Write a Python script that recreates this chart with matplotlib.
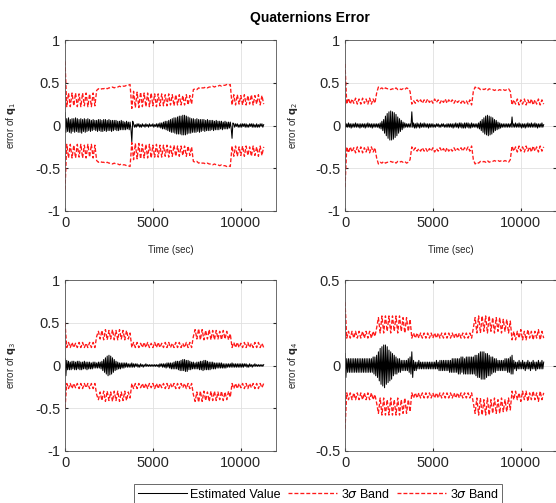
import numpy as np
import matplotlib
matplotlib.use('Agg')
import matplotlib.pyplot as plt

plt.rcParams['font.family'] = ['Liberation Sans', 'DejaVu Sans']

# time grids (sec)
t_band = np.arange(0, 11400, 100)
t_est = np.arange(0, 11350, 50)

# 3-sigma band (upper), sampled every 100 s; lower band is the negative
band_q1 = [0.75,
    0.22, 0.38, 0.22, 0.38, 0.23, 0.38, 0.22, 0.37, 0.22, 0.38, 0.23, 0.38, 0.22, 0.37, 0.22, 0.38, 0.23,
    0.41, 0.43, 0.42, 0.43, 0.43, 0.44, 0.43, 0.44, 0.44, 0.45, 0.44, 0.45, 0.45, 0.46, 0.45, 0.46, 0.46, 0.47, 0.47, 0.48,
    0.20, 0.40, 0.21, 0.39, 0.21, 0.39, 0.22, 0.38, 0.22, 0.38, 0.22, 0.38, 0.23, 0.37, 0.22, 0.37, 0.23, 0.37,
    0.23, 0.36, 0.23, 0.37, 0.24, 0.36, 0.23, 0.36, 0.24, 0.36, 0.24, 0.35, 0.24, 0.36, 0.24, 0.35, 0.25,
    0.42, 0.43, 0.42, 0.44, 0.43, 0.44, 0.44, 0.45, 0.44, 0.45, 0.45, 0.46, 0.45, 0.46, 0.46, 0.47, 0.46, 0.47,
    0.47, 0.48, 0.47, 0.48,
    0.24, 0.36, 0.24, 0.36, 0.25, 0.35, 0.24, 0.36, 0.24, 0.35, 0.25, 0.36, 0.24, 0.35, 0.25, 0.36, 0.24, 0.35, 0.25]
band_q2 = [0.72,
    0.25, 0.32, 0.25, 0.31, 0.26, 0.32, 0.25, 0.31, 0.25, 0.32, 0.26, 0.31, 0.25, 0.32, 0.25, 0.31, 0.26,
    0.38, 0.45, 0.43, 0.44, 0.42, 0.44, 0.43, 0.43, 0.42, 0.43, 0.42, 0.44, 0.42, 0.43, 0.42, 0.43, 0.42, 0.44, 0.43, 0.40,
    0.25, 0.29, 0.26, 0.30, 0.27, 0.30, 0.26, 0.30, 0.27, 0.31, 0.27, 0.30, 0.26, 0.31, 0.27, 0.30, 0.26, 0.30,
    0.27, 0.31, 0.26, 0.30, 0.27, 0.30, 0.26, 0.30, 0.27, 0.29, 0.26, 0.30, 0.26, 0.29, 0.25, 0.30, 0.24,
    0.40, 0.45, 0.43, 0.44, 0.42, 0.43, 0.42, 0.43, 0.41, 0.43, 0.42, 0.42, 0.41, 0.42, 0.41, 0.42, 0.41, 0.42,
    0.41, 0.42, 0.43, 0.40,
    0.24, 0.30, 0.25, 0.31, 0.24, 0.30, 0.25, 0.31, 0.24, 0.30, 0.25, 0.31, 0.24, 0.30, 0.25, 0.31, 0.24, 0.30, 0.25]
band_q3 = [0.50,
    0.21, 0.27, 0.21, 0.27, 0.21, 0.26, 0.21, 0.27, 0.21, 0.27, 0.21, 0.26, 0.21, 0.27, 0.21, 0.27, 0.21,
    0.34, 0.40, 0.31, 0.41, 0.30, 0.42, 0.30, 0.41, 0.31, 0.42, 0.30, 0.41, 0.30, 0.42, 0.31, 0.41, 0.30, 0.41, 0.31, 0.38,
    0.21, 0.27, 0.21, 0.27, 0.21, 0.26, 0.21, 0.27, 0.21, 0.27, 0.21, 0.26, 0.21, 0.27, 0.21, 0.27, 0.21, 0.26,
    0.21, 0.27, 0.21, 0.27, 0.21, 0.26, 0.21, 0.27, 0.21, 0.27, 0.21, 0.26, 0.21, 0.27, 0.21, 0.27, 0.21,
    0.34, 0.42, 0.31, 0.43, 0.30, 0.42, 0.30, 0.41, 0.31, 0.42, 0.30, 0.41, 0.30, 0.41, 0.31, 0.40, 0.30, 0.41,
    0.31, 0.40, 0.30, 0.37,
    0.21, 0.27, 0.21, 0.27, 0.21, 0.26, 0.21, 0.27, 0.21, 0.27, 0.21, 0.26, 0.21, 0.27, 0.21, 0.27, 0.21, 0.26, 0.21]
band_q4 = [0.37,
    0.16, 0.20, 0.16, 0.20, 0.16, 0.20, 0.16, 0.20, 0.16, 0.20, 0.16, 0.20, 0.16, 0.20, 0.16, 0.20, 0.17,
    0.22, 0.28, 0.19, 0.29, 0.19, 0.29, 0.20, 0.29, 0.19, 0.29, 0.20, 0.29, 0.19, 0.29, 0.20, 0.28, 0.19, 0.28, 0.20, 0.27,
    0.16, 0.19, 0.16, 0.19, 0.16, 0.19, 0.16, 0.19, 0.16, 0.19, 0.16, 0.19, 0.16, 0.19, 0.16, 0.19, 0.16, 0.19,
    0.16, 0.19, 0.16, 0.19, 0.16, 0.19, 0.16, 0.19, 0.16, 0.19, 0.16, 0.19, 0.16, 0.19, 0.16, 0.19, 0.16,
    0.22, 0.28, 0.19, 0.29, 0.19, 0.29, 0.20, 0.29, 0.19, 0.29, 0.20, 0.28, 0.19, 0.28, 0.20, 0.28, 0.19, 0.27,
    0.20, 0.27, 0.19, 0.26,
    0.15, 0.20, 0.15, 0.20, 0.16, 0.21, 0.15, 0.20, 0.15, 0.21, 0.16, 0.20, 0.15, 0.20, 0.16, 0.21, 0.15, 0.20, 0.16]

# estimated error, sampled every 50 s
est_q1 = [0.15,
    -0.08, 0.08, -0.07, 0.09, -0.08, 0.07, -0.09, 0.08, -0.07, 0.08, -0.08, 0.09, -0.07, 0.08, -0.08, 0.07, -0.08, 0.08,
    -0.09, 0.07, -0.07, 0.08, -0.08, 0.07, -0.07, 0.08, -0.06, 0.07, -0.07, 0.06, -0.06, 0.07, -0.05, 0.06, -0.06,
    0.06, -0.07, 0.07, -0.06, 0.07, -0.07, 0.06, -0.07, 0.07, -0.06, 0.07, -0.07, 0.06, -0.06, 0.07, -0.06, 0.06, -0.07,
    0.06, -0.06, 0.06, -0.05, 0.06, -0.06, 0.05, -0.06, 0.05, -0.05, 0.06, -0.05, 0.05, -0.05, 0.04, -0.05, 0.05, -0.04,
    0.04, -0.05, 0.04, -0.04,
    -0.19, 0.05,
    0.02, -0.02, 0.01, -0.02, 0.02, -0.01, 0.02, -0.02, 0.01, -0.02, 0.02, -0.01, 0.01, -0.02, 0.02, -0.01, 0.01, -0.02,
    0.02, -0.01, 0.01, -0.01, 0.02, -0.02, 0.01, -0.01, 0.02, -0.02, 0.02, -0.02, 0.03, -0.03, 0.03, -0.04, 0.04, -0.04,
    0.05, -0.05,
    0.05, -0.06, 0.06, -0.07, 0.07, -0.08, 0.08, -0.08, 0.09, -0.09, 0.09, -0.10, 0.10, -0.10, 0.11, -0.10, 0.11, -0.11,
    0.12, -0.11, 0.12, -0.11, 0.11, -0.10, 0.10, -0.09, 0.09, -0.09, 0.08, -0.08,
    0.08, -0.08, 0.07, -0.08, 0.08, -0.07, 0.07, -0.08, 0.07, -0.07, 0.07, -0.06, 0.07, -0.07, 0.06, -0.06, 0.07, -0.06,
    0.06, -0.06, 0.06, -0.05, 0.06, -0.06, 0.05, -0.05, 0.06, -0.05, 0.05, -0.05, 0.05, -0.04, 0.05, -0.05, 0.04, -0.04,
    0.05, -0.04, 0.04, -0.04, 0.04, -0.03, 0.04, -0.03,
    -0.15, 0.03,
    0.02, -0.02, 0.02, -0.01, 0.02, -0.02, 0.01, -0.02, 0.02, -0.02, 0.02, -0.01, 0.02, -0.02, 0.02, -0.02, 0.01, -0.02,
    0.02, -0.01, 0.02, -0.02, 0.02, -0.02, 0.01, -0.02, 0.02, -0.02, 0.01, -0.02, 0.02, -0.01, 0.02, -0.02, 0.01]
est_q2 = [0.03,
    -0.02, 0.02, -0.02, 0.03, -0.02, 0.02, -0.03, 0.02, -0.02, 0.02, -0.02, 0.03, -0.02, 0.02, -0.02, 0.02, -0.03, 0.02,
    -0.02, 0.02, -0.02, 0.02, -0.03, 0.02, -0.02, 0.03, -0.02, 0.02, -0.02, 0.02, -0.03, 0.02, -0.02, 0.02, -0.02,
    0.02, -0.02, 0.02, -0.03, 0.03, -0.04, 0.05, -0.06,
    0.07, -0.09, 0.11, -0.12, 0.14, -0.15, 0.16, -0.17, 0.17, -0.17, 0.16, -0.16, 0.15, -0.14, 0.13, -0.12, 0.10, -0.09,
    0.08, -0.07, 0.06, -0.05, 0.04,
    -0.03, 0.03, -0.02, 0.02, -0.02, 0.02, -0.02, 0.02, -0.02,
    0.16, -0.02,
    0.03, -0.03, 0.02, -0.03, 0.03, -0.02, 0.02, -0.03, 0.03, -0.02, 0.02, -0.02, 0.03, -0.02, 0.02, -0.02, 0.02, -0.03,
    0.02, -0.02, 0.02, -0.02, 0.02, -0.02, 0.01, -0.02, 0.02, -0.01, 0.02, -0.02, 0.01, -0.02, 0.02, -0.01, 0.02, -0.02,
    0.01, -0.02, 0.02, -0.02, 0.02, -0.02, 0.02, -0.02, 0.02, -0.03, 0.02, -0.02, 0.03, -0.02, 0.02, -0.03, 0.03, -0.02,
    0.03, -0.03, 0.02, -0.03, 0.03, -0.03, 0.03, -0.02, 0.03, -0.03, 0.02, -0.03, 0.03, -0.02,
    0.02, -0.02, 0.02, -0.02, 0.02, -0.03, 0.03, -0.04, 0.05, -0.06,
    0.07, -0.08, 0.09, -0.10, 0.11, -0.11, 0.12, -0.12, 0.11, -0.11, 0.10, -0.10, 0.09, -0.08, 0.07, -0.06, 0.06, -0.05,
    0.04, -0.04, 0.03, -0.03,
    0.02, -0.02, 0.02, -0.02, 0.02, -0.02, 0.02, -0.02, 0.02, -0.02, 0.02, -0.02,
    0.10, -0.02,
    0.02, -0.02, 0.03, -0.02, 0.02, -0.02, 0.03, -0.02, 0.02, -0.03, 0.02, -0.02, 0.02, -0.03, 0.02, -0.02, 0.03, -0.02,
    0.02, -0.02, 0.03, -0.02, 0.02, -0.02, 0.03, -0.02, 0.02, -0.03, 0.02, -0.02, 0.02, -0.02, 0.03, -0.02, 0.01]
est_q3 = [0.08,
    -0.12, 0.06, -0.05, 0.05, -0.05, 0.04, -0.05, 0.05, -0.04, 0.05, -0.05, 0.04, -0.05, 0.05, -0.04, 0.05, -0.05, 0.04,
    -0.05, 0.04, -0.04, 0.05, -0.04, 0.04, -0.05, 0.04, -0.04, 0.04, -0.04, 0.03, -0.04, 0.04, -0.03, 0.04, -0.03,
    0.03, -0.03, 0.04, -0.03, 0.04, -0.04, 0.05, -0.06, 0.07, -0.08,
    0.09, -0.10, 0.11, -0.12, 0.12, -0.11, 0.11, -0.10, 0.09, -0.08, 0.07, -0.06, 0.05, -0.05, 0.04,
    -0.04, 0.03, -0.04, 0.03, -0.03, 0.03, -0.03, 0.03, -0.02, 0.03, -0.02, 0.02, -0.02, 0.02, -0.02,
    0.03, -0.02,
    0.02, -0.02, 0.02, -0.01, 0.02, -0.02, 0.01, -0.02, 0.02, -0.01, 0.01, -0.02, 0.01, -0.01, 0.02, -0.01, 0.01, -0.01,
    0.01, -0.01, 0.01, -0.01, 0.01, -0.01, 0.01, -0.01, 0.01, -0.01, 0.01, -0.02, 0.02, -0.01, 0.02, -0.02, 0.02, -0.02,
    0.02, -0.03, 0.03, -0.02, 0.03, -0.03,
    0.03, -0.04, 0.03, -0.04, 0.04, -0.04, 0.05, -0.04, 0.05, -0.05, 0.05, -0.06, 0.06, -0.06, 0.07, -0.06, 0.07, -0.07,
    0.06, -0.07, 0.06, -0.05, 0.05, -0.05, 0.04, -0.04,
    0.04, -0.04, 0.03, -0.04, 0.04, -0.04, 0.04, -0.05, 0.05, -0.05, 0.05, -0.06, 0.06, -0.05, 0.06, -0.05, 0.05, -0.05,
    0.04, -0.05, 0.04, -0.04, 0.04, -0.04, 0.03, -0.04, 0.03, -0.03, 0.03, -0.03, 0.03, -0.03, 0.03, -0.03, 0.02, -0.03,
    0.02, -0.03, 0.02, -0.02, 0.02, -0.02, 0.02, -0.02,
    0.03, -0.02,
    0.02, -0.02, 0.02, -0.02, 0.02, -0.02, 0.02, -0.02, 0.02, -0.02, 0.02, -0.02, 0.02, -0.01, 0.02, -0.02, 0.01, -0.02,
    0.02, -0.01, 0.01, -0.02, 0.01, -0.01, 0.02, -0.01, 0.01, -0.01, 0.01, -0.01, 0.01, -0.01, 0.01, -0.01, 0.01]
est_q4 = [0.07,
    -0.07, 0.04, -0.04, 0.04, -0.04, 0.04, -0.04, 0.04, -0.04, 0.04, -0.04, 0.04, -0.04, 0.04, -0.04, 0.04, -0.04, 0.04,
    -0.04, 0.04, -0.04, 0.04, -0.04, 0.04, -0.04, 0.04, -0.04, 0.04, -0.04, 0.04, -0.04, 0.05, -0.05, 0.05, -0.06,
    0.06, -0.07, 0.08, -0.09, 0.10, -0.11, 0.11, -0.12, 0.12, -0.13, 0.12,
    -0.11, 0.11, -0.10, 0.09, -0.09, 0.08, -0.08, 0.07, -0.06, 0.06, -0.05, 0.05, -0.05, 0.04, -0.04, 0.04, -0.04, 0.03,
    -0.03, 0.03, -0.03,
    0.03, -0.03, 0.03, -0.03, 0.04, -0.04, 0.05, -0.05,
    0.08, -0.07,
    0.03, -0.03, 0.02, -0.03, 0.02, -0.02, 0.03, -0.02, 0.02, -0.02, 0.02, -0.02, 0.02, -0.02, 0.02, -0.02, 0.02, -0.02,
    0.02, -0.02, 0.02, -0.02, 0.02, -0.02, 0.02, -0.02, 0.03, -0.02, 0.02, -0.03, 0.03, -0.03, 0.03, -0.03, 0.03, -0.03,
    0.03, -0.03, 0.03, -0.03, 0.03, -0.04, 0.03, -0.04, 0.04, -0.04, 0.04, -0.04, 0.04, -0.04, 0.04, -0.05, 0.04, -0.05,
    0.05, -0.04, 0.05, -0.05, 0.04, -0.05, 0.05, -0.05, 0.05, -0.05, 0.05, -0.05, 0.05, -0.05,
    0.05, -0.05, 0.06, -0.06, 0.06, -0.07, 0.07, -0.07, 0.08, -0.08, 0.08, -0.08, 0.08, -0.08, 0.07, -0.07, 0.07, -0.06,
    0.06, -0.06, 0.05, -0.05, 0.05, -0.04, 0.04, -0.04, 0.04, -0.03, 0.03, -0.03, 0.03, -0.03, 0.03, -0.03, 0.03, -0.03,
    0.04, -0.03, 0.04, -0.04, 0.04, -0.04, 0.05, -0.05,
    0.06, -0.05,
    0.03, -0.02, 0.02, -0.03, 0.02, -0.02, 0.03, -0.02, 0.02, -0.02, 0.03, -0.02, 0.02, -0.03, 0.02, -0.02, 0.03, -0.02,
    0.02, -0.03, 0.02, -0.02, 0.03, -0.02, 0.02, -0.03, 0.02, -0.02, 0.03, -0.02, 0.02, -0.02, 0.03, -0.02, 0.02]

bands = [band_q1, band_q2, band_q3, band_q4]
ests = [est_q1, est_q2, est_q3, est_q4]
ylabels = [r'error of $\mathbf{q}_1$', r'error of $\mathbf{q}_2$', r'error of $\mathbf{q}_3$', r'error of $\mathbf{q}_4$']
ylims = [(-1, 1), (-1, 1), (-1, 1), (-0.5, 0.5)]
yticks = [[-1, -0.5, 0, 0.5, 1]] * 3 + [[-0.5, 0, 0.5]]

W, H = 556, 503
fig = plt.figure(figsize=(W / 100, H / 100), dpi=100)

# axes boxes in pixels: left, top, right, bottom
boxes = [(65, 40, 276, 211), (345, 40, 556, 211), (65, 280, 276, 451), (345, 280, 556, 451)]
label_x = [-0.225, -0.213, -0.222, -0.213]

for k in range(4):
    l, t, r, b = boxes[k]
    ax = fig.add_axes([l / W, 1 - b / H, (r - l) / W, (b - t) / H])
    up = np.array(bands[k])
    h1, = ax.plot(t_est, ests[k], color='k', lw=0.75)
    h2, = ax.plot(t_band, up, color='#ff1a1a', ls='--', lw=0.95, dashes=(3, 1.5))
    h3, = ax.plot(t_band, -up, color='#ff1a1a', ls='--', lw=0.95, dashes=(3, 1.5))
    ax.set_xlim(0, 12000)
    ax.set_ylim(*ylims[k])
    ax.set_xticks([0, 5000, 10000])
    ax.set_yticks(yticks[k])
    ax.set_yticklabels([f'{v:g}' for v in yticks[k]])
    ax.grid(True, color='#e0e0e0', lw=0.6)
    ax.set_axisbelow(True)
    ax.tick_params(direction='in', length=2, labelsize=10.5, colors='#262626', top=True, right=True)
    for s in ax.spines.values():
        s.set_color('#555555')
        s.set_linewidth(0.6)
    ax.set_ylabel(ylabels[k], fontsize=7, color='#262626')
    ax.yaxis.set_label_coords(label_x[k], 0.5)
    if k < 2:
        ax.set_xlabel('Time (sec)', fontsize=7, color='#262626')
        ax.xaxis.set_label_coords(0.5, -0.2)

fig.text(310 / W, 1 - 18 / H, 'Quaternions Error', ha='center', va='center',
         fontsize=10, fontweight='bold')

leg = fig.legend([h1, h2, h3], ['Estimated Value', r'3$\sigma$ Band', r'3$\sigma$ Band'],
                 ncol=3, loc='center', bbox_to_anchor=(318 / W, 1 - 494 / H),
                 fontsize=9, frameon=True, fancybox=False, handlelength=3.9,
                 columnspacing=0.6, handletextpad=0.3, borderpad=0.3, borderaxespad=0)
leg.get_frame().set_edgecolor('#262626')
leg.get_frame().set_linewidth(0.6)
for lh in leg.get_lines()[1:]:
    lh.set_dashes((3, 1.5))

fig.savefig('out.png', dpi=100)
